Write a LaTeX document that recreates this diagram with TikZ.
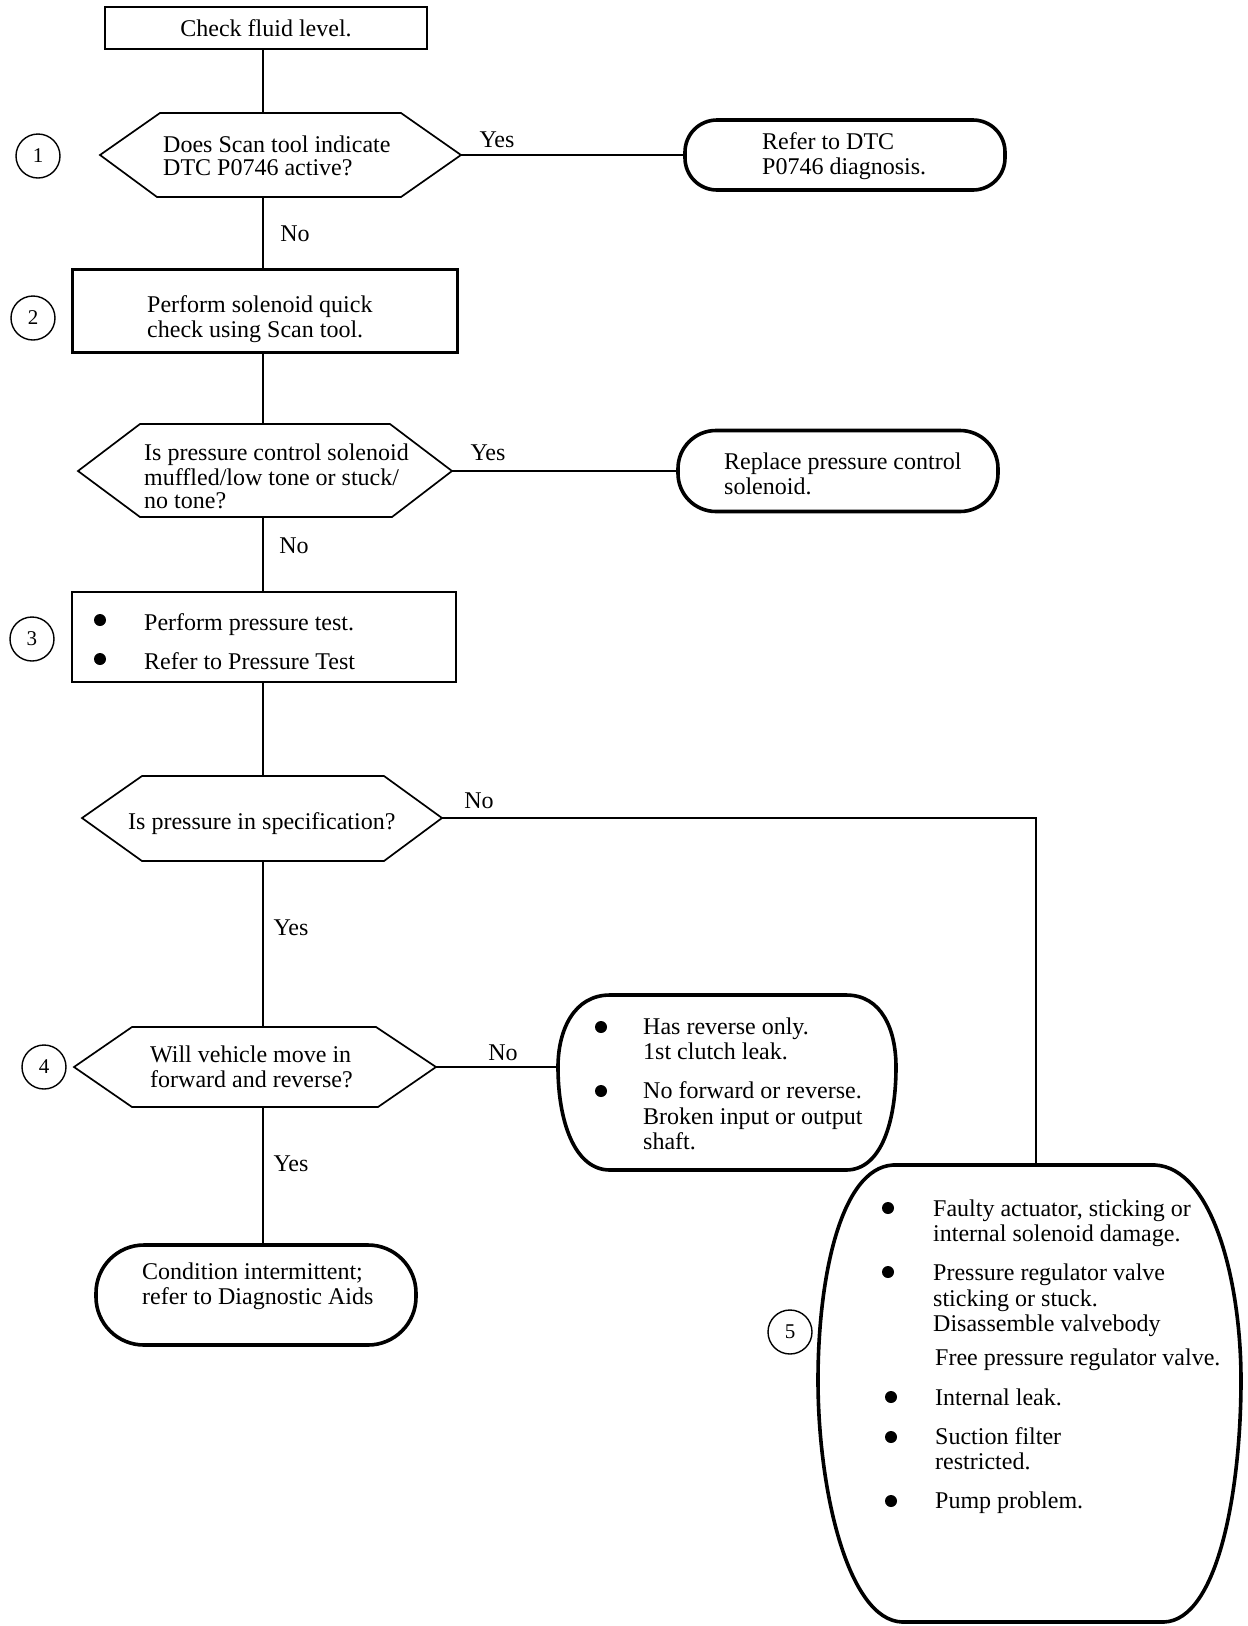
\documentclass[tikz,border=0pt]{standalone}
\usepackage{fontspec}
\setmainfont{Liberation Serif}
\newcommand\tfont{\fontsize{24}{23}\selectfont}
\newcommand\tfontb{\fontsize{24}{25.5}\selectfont}
\begin{document}
\begin{tikzpicture}[x=1pt,y=-1pt,
  conn/.style={line width=1.6pt},
  boxnode/.style={draw, line width=2.2pt, rectangle, inner sep=0pt},
  termnode/.style={draw, line width=3.6pt, rectangle, inner sep=0pt},
  termline/.style={line width=3.6pt},
  hexline/.style={line width=1.7pt, line join=miter},
  txt/.style={font=\tfont, align=left, inner sep=0pt, anchor=west},
  txtb/.style={font=\tfontb, align=left, inner sep=0pt, anchor=west},
  lbl/.style={font=\tfont, inner sep=0pt},
  num/.style={draw, circle, line width=1.4pt, minimum size=44pt, inner sep=0pt, font=\fontsize{21}{21}\selectfont},
  bul/.style={fill, circle, minimum size=12pt, inner sep=0pt}]
\useasboundingbox (0,0) rectangle (1248,1626);

% ---- top box
\node[boxnode, line width=1.8pt, minimum width=322pt, minimum height=42pt, font=\tfont] (check) at (266,28) {Check fluid level.};

% ---- hexagon 1
\coordinate (h1l) at (100,155); \coordinate (h1tl) at (160,113);
\coordinate (h1tr) at (401,113); \coordinate (h1r) at (461,155);
\coordinate (h1br) at (401,197); \coordinate (h1bl) at (157,197);
\coordinate (h1t) at (263,113); \coordinate (h1b) at (263,197);
\draw[hexline] (h1l) -- (h1tl) -- (h1tr) -- (h1r) -- (h1br) -- (h1bl) -- cycle;
\node[txt] (q1) at (163,159) {\strut Does Scan tool indicate\\DTC P0746 active?\strut};
\node[num] (n1) at (38,156) {1};
\node[lbl] (yes1) at (497,140) {Yes};
\node[termnode, minimum width=320pt, minimum height=70pt, rounded corners=32pt] (t1) at (845,155) {};
\node[txt] (t1txt) at (762,157) {\strut Refer to DTC\\P0746 diagnosis.\strut};
\draw[conn] (check.south -| h1t) -- (h1t);
\draw[conn] (h1r) -- (t1.west |- h1r);

% ---- box 2
\node[lbl] (no1) at (295,234) {No};
\node[boxnode, minimum width=385pt, minimum height=83pt] (b2) at (265,311) {};
\node[txt] (b2txt) at (147,320) {\strut Perform solenoid quick\\check using Scan tool.\strut};
\node[num] (n2) at (33,318) {2};
\draw[conn] (h1b) -- (b2.north -| h1b);

% ---- hexagon 2
\coordinate (h2l) at (78,471); \coordinate (h2tl) at (140,424);
\coordinate (h2tr) at (390,424); \coordinate (h2r) at (452,471);
\coordinate (h2br) at (392,517); \coordinate (h2bl) at (140,517);
\coordinate (h2t) at (263,424); \coordinate (h2b) at (263,517);
\draw[hexline] (h2l) -- (h2tl) -- (h2tr) -- (h2r) -- (h2br) -- (h2bl) -- cycle;
\node[txt] (q2) at (144,480) {\strut Is pressure control solenoid\\muffled/low tone or stuck/\\no tone?\strut};
\draw[conn] (b2.south -| h2t) -- (h2t);
\node[lbl] (yes2) at (488,453) {Yes};
\node[termnode, minimum width=320pt, minimum height=81pt, rounded corners=38pt] (t2) at (838,471) {};
\node[txt] (t2txt) at (724,477) {\strut Replace pressure control\\solenoid.\strut};
\draw[conn] (h2r) -- (t2.west |- h2r);

% ---- box 3
\node[lbl] (no2) at (294,546) {No};
\node[boxnode, minimum width=384pt, minimum height=90pt] (b3) at (264,637) {};
\node[bul] (b3a) at (100,620) {};
\node[bul] (b3b) at (100,659) {};
\node[txt] (b3t1) at (144,625) {\strut Perform pressure test.};
\node[txt] (b3t2) at (144,664) {\strut Refer to Pressure Test};
\node[num] (n3) at (32,639) {3};
\draw[conn] (h2b) -- (b3.north -| h2b);

% ---- hexagon 3
\coordinate (h3l) at (82,818); \coordinate (h3tl) at (142,776);
\coordinate (h3tr) at (384,776); \coordinate (h3r) at (442,818);
\coordinate (h3br) at (384,861); \coordinate (h3bl) at (142,861);
\coordinate (h3t) at (263,776); \coordinate (h3b) at (263,861);
\draw[hexline] (h3l) -- (h3tl) -- (h3tr) -- (h3r) -- (h3br) -- (h3bl) -- cycle;
\node[txt] (q3) at (128,824) {\strut Is pressure in specification?};
\draw[conn] (b3.south -| h3t) -- (h3t);
\node[lbl] (no3) at (479,801) {No};
\node[lbl] (yes3) at (291,928) {Yes};

% ---- hexagon 4
\coordinate (h4l) at (74,1067); \coordinate (h4tl) at (132,1027);
\coordinate (h4tr) at (376,1027); \coordinate (h4r) at (436,1067);
\coordinate (h4br) at (378,1107); \coordinate (h4bl) at (132,1107);
\coordinate (h4t) at (263,1027); \coordinate (h4b) at (263,1107);
\draw[hexline] (h4l) -- (h4tl) -- (h4tr) -- (h4r) -- (h4br) -- (h4bl) -- cycle;
\node[txt] (q4) at (150,1070) {\strut Will vehicle move in\\forward and reverse?\strut};
\node[num] (n4) at (44,1067) {4};
\draw[conn] (h3b) -- (h4t);
\node[lbl] (no4) at (503,1053) {No};
\node[lbl] (yes4) at (291,1164) {Yes};

% ---- terminal 4 (two bullets)
\coordinate (t4w) at (558,1067);
\draw[termline] (610,995) -- (846,995)
  .. controls (882,995) and (896,1030) .. (896,1067)
  .. controls (896,1120) and (882,1170) .. (846,1170)
  -- (610,1170)
  .. controls (574,1170) and (558,1120) .. (t4w)
  .. controls (558,1030) and (574,995) .. (610,995) -- cycle;
\node[bul] (t4a) at (601,1027) {};
\node[bul] (t4b) at (601,1091) {};
\node[txtb] (t4t1) at (643,1042) {\strut Has reverse only.\\1st clutch leak.\strut};
\node[txtb] (t4t2) at (643,1119) {\strut No forward or reverse.\\Broken input or output\\shaft.\strut};
\draw[conn] (h4r) -- (t4w);

% ---- terminal 6
\node[termnode, minimum width=320pt, minimum height=100pt, rounded corners=48pt] (t6) at (256,1295) {};
\node[txt] (t6txt) at (142,1287) {\strut Condition intermittent;\\refer to Diagnostic Aids\strut};
\draw[conn] (h4b) -- (t6.north -| h4b);

% ---- terminal 5 (barrel)
\coordinate (t5n) at (1036,1165);
\draw[termline] (893,1165) -- (1155,1165)
  .. controls (1212,1168) and (1241,1280) .. (1241,1380)
  .. controls (1241,1490) and (1218,1620) .. (1164,1622)
  -- (902,1622)
  .. controls (848,1620) and (818,1490) .. (818,1380)
  .. controls (818,1280) and (840,1168) .. (893,1165) -- cycle;
\node[num] (n5) at (790,1332) {5};
\node[bul] (t5a) at (888,1208) {};
\node[bul] (t5b) at (888,1272) {};
\node[bul] (t5c) at (891,1397) {};
\node[bul] (t5d) at (891,1437) {};
\node[bul] (t5e) at (891,1501) {};
\node[txtb] (t5t1) at (933,1224) {\strut Faulty actuator, sticking or\\internal solenoid damage.\strut};
\node[txtb] (t5t2) at (933,1301) {\strut Pressure regulator valve\\sticking or stuck.\\Disassemble valvebody\strut};
\node[txtb] (t5t3) at (935,1360) {\strut Free pressure regulator valve.};
\node[txtb] (t5t4) at (935,1400) {\strut Internal leak.};
\node[txtb] (t5t5) at (935,1452) {\strut Suction filter\\restricted.\strut};
\node[txtb] (t5t6) at (935,1503) {\strut Pump problem.};
\draw[conn] (h3r) -| (t5n);
\end{tikzpicture}
\end{document}
